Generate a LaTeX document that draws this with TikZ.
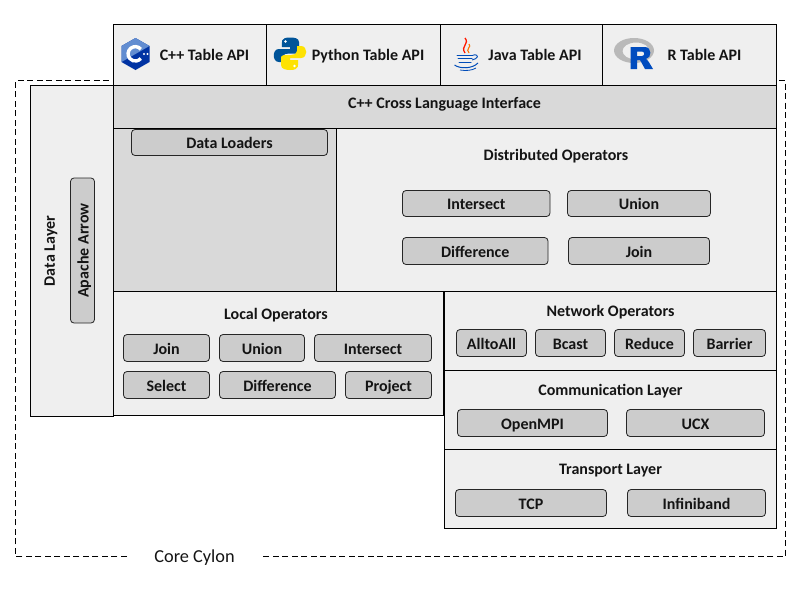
\documentclass[tikz,border=0pt]{standalone}
\usepackage{fontspec}
\setmainfont{Carlito}
\definecolor{lightfill}{RGB}{239,239,239}
\definecolor{midfill}{RGB}{217,217,217}
\definecolor{btnfill}{RGB}{204,204,204}
\definecolor{txt}{RGB}{20,20,20}
\tikzset{
  panel/.style={draw=black,line width=0.9pt,fill=lightfill,outer sep=0pt},
  panelg/.style={panel,fill=midfill},
  btn/.style={draw=black!85,line width=0.8pt,fill=btnfill,rounded corners=3.5pt,inner sep=0pt,outer sep=0pt,font=\fontsize{16}{16}\selectfont\bfseries,text=txt,text height=12.4pt,text depth=0pt},
  head/.style={font=\fontsize{16}{16}\selectfont\bfseries,text=txt,inner sep=0pt,text height=13pt,text depth=3.5pt},
}
\newcommand{\boxat}[6][panel]{\node[#1,inner sep=0pt,anchor=north west,minimum width=#4-#2,minimum height=#5-#3] (#6) at (#2,#3) {};}
\newcommand{\btnat}[6]{\node[btn,anchor=north west,minimum width=#3-#1,minimum height=#4-#2] (#5) at (#1,#2) {#6};}
\begin{document}
\begin{tikzpicture}[x=1pt,y=-1pt]
\useasboundingbox (0,0) rectangle (800,600);
\fill[white] (0,0) rectangle (800,600);
% dashed frame
\coordinate (f1) at (127,556.5);
\coordinate (f2) at (15.5,556.5);
\coordinate (f3) at (15.5,80.5);
\coordinate (f4) at (785.5,80.5);
\coordinate (f5) at (785.5,556.5);
\coordinate (f6) at (263,556.5);
\draw[line width=0.8pt,dash pattern=on 6pt off 3.514pt] (f1) -- (f2) -- (f3) -- (f4) -- (f5) -- (f6);
\node[inner sep=0pt,font=\fontsize{18.3}{18}\selectfont,text=txt] (core) at (194.5,558) {Core Cylon};
% panels
\boxat[panel]{113.5}{24}{266.5}{85}{apic}
\boxat[panel]{266.5}{24}{440.5}{85}{apip}
\boxat[panel]{440.5}{24}{602.5}{85}{apij}
\boxat[panel]{602.5}{24}{776.5}{85}{apir}
\boxat[panel]{30.5}{85}{113.5}{416}{datal}
\boxat[panelg]{113.5}{85}{776.5}{128}{cross}
\boxat[panelg]{113.5}{128}{336.5}{291.5}{loaders}
\boxat[panel]{336.5}{128}{776.5}{291.5}{dist}
\boxat[panel]{113.5}{291.5}{443.5}{415.5}{local}
\boxat[panel]{444.5}{291.5}{776.5}{370.5}{net}
\boxat[panel]{444.5}{370.5}{776.5}{449.5}{comm}
\boxat[panel]{444.5}{449.5}{776.5}{528}{trans}
% api labels
\node[head] (t1) at (204.5,56) {C++ Table API};
\node[head] (t2) at (368,56) {Python Table API};
\node[head] (t3) at (535,56) {Java Table API};
\node[head] (t4) at (704.5,56) {R Table API};
% headings
\node[head] at (444.5,104) {C++ Cross Language Interface};
\node[head] at (556,156) {Distributed Operators};
\node[head] at (276,315) {Local Operators};
\node[head] at (610.5,312) {Network Operators};
\node[head] at (610.5,391) {Communication Layer};
\node[head] at (610.5,470) {Transport Layer};
\node[head,rotate=90] at (50,251) {Data Layer};
% buttons
\btnat{131.5}{129.5}{327.5}{155.5}{b1}{Data Loaders}
\btnat{402.5}{190.5}{550}{216.5}{b2}{Intersect}
\btnat{567.5}{190.5}{710.5}{216.5}{b3}{Union}
\btnat{402.5}{237.5}{548}{264.5}{b4}{Difference}
\btnat{568.5}{237.5}{709.5}{264.5}{b5}{Join}
\btnat{123.5}{334.5}{209.5}{361.5}{b6}{Join}
\btnat{219.5}{334.5}{304.5}{361.5}{b7}{Union}
\btnat{314.5}{334.5}{431.5}{361.5}{b8}{Intersect}
\btnat{123.5}{371.5}{209.5}{398.5}{b9}{Select}
\btnat{219.5}{371.5}{335.5}{398.5}{b10}{Difference}
\btnat{345.5}{371.5}{431.5}{398.5}{b11}{Project}
\btnat{456.5}{329.5}{526.5}{356.5}{b12}{AlltoAll}
\btnat{535.5}{329.5}{605.5}{356.5}{b13}{Bcast}
\btnat{614.5}{329.5}{684.5}{356.5}{b14}{Reduce}
\btnat{693.5}{329.5}{765.5}{356.5}{b15}{Barrier}
\btnat{457.5}{409.5}{607.5}{436.5}{b16}{OpenMPI}
\btnat{626.5}{409.5}{764.5}{436.5}{b17}{UCX}
\btnat{455.5}{489.5}{606.5}{516.5}{b18}{TCP}
\btnat{627.5}{489.5}{765.5}{516.5}{b19}{Infiniband}
\node[btn,minimum width=145pt,minimum height=24pt,rotate=90] (b20) at (82.5,250.5) {Apache Arrow};
% C++ logo
\fill[blue!55!black!80!cyan] (135.5,38) -- (149.5,46) -- (149.5,62) -- (135.5,70) -- (121.5,62) -- (121.5,46) -- cycle;
\fill[cyan!45!blue!65!white] (135.5,38) -- (149.5,46) -- (135.5,54) -- (121.5,62) -- (121.5,46) -- cycle;
\draw[white,line width=3.4pt] (140.8,49.2) arc[start angle=-40,end angle=-320,radius=7.2];
\fill[white] (144,54) circle (1.1) (147.5,54) circle (1.1);
% Python logo
\fill[blue!45!cyan!60!black] (290,37.5) .. controls (280,37.5) and (282,42) .. (282,47) -- (290,47) -- (290,49) -- (279,49) .. controls (272,49) and (272,62) .. (279,62) -- (283,62) -- (283,57) .. controls (283,54) and (286,53.5) .. (289,53.5) -- (296,53.5) .. controls (299,53.5) and (299,50) .. (299,48) -- (299,42) .. controls (299,38) and (294,37.5) .. (290,37.5) -- cycle;
\fill[yellow!85!orange] (290,70) .. controls (300,70) and (298,65) .. (298,60) -- (290,60) -- (290,58) -- (301,58) .. controls (308,58) and (308,46) .. (301,46) -- (297,46) -- (297,51) .. controls (297,54) and (294,55) .. (291,55) -- (284,55) .. controls (281,55) and (281,57) .. (281,59) -- (281,65) .. controls (281,69) and (286,70) .. (290,70) -- cycle;
\fill[white] (285.5,41.5) circle (1.4) (294.5,66) circle (1.4);
% Java logo
\draw[red!80!orange,line width=1.3pt] (465,38) .. controls (470,44) and (460,46) .. (465,53);
\draw[orange!90!red,line width=1.1pt] (469,44) .. controls (472,47) and (465,49) .. (469,53);
\draw[blue!60!black!70!cyan,line width=1pt,line cap=round] (457,55) -- (473,55) (458,58.5) -- (472,58.5) (459,62) -- (471,62);
\draw[blue!60!black!70!cyan,line width=0.9pt] (473,55) .. controls (480,54) and (478,59) .. (472,60);
\draw[blue!60!black!70!cyan,line width=1pt] (454.5,65) .. controls (460,69) and (472,69) .. (478,63);
\draw[blue!60!black!70!cyan,line width=0.8pt] (460,70) .. controls (466,71) and (472,70.5) .. (476,68);
% R logo
\fill[gray!55,even odd rule] (634,50.5) ellipse (20 and 12.5) (636,51) ellipse (13.5 and 8.5);
\fill[blue!60!cyan!75!black,even odd rule] (630.5,47) -- (645,47) .. controls (652,47) and (652,58) .. (646,59) .. controls (648,60) and (650,64) .. (653,69) -- (645,69) -- (640,60) -- (637,60) -- (637,69) -- (630.5,69) -- cycle (637,51.5) -- (637,56) -- (642,56) .. controls (645,56) and (645,51.5) .. (642,51.5) -- cycle;
\end{tikzpicture}
\end{document}
